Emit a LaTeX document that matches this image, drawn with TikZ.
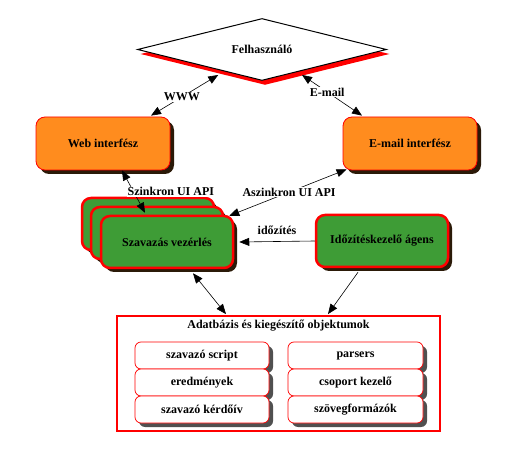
\documentclass[tikz,border=0pt]{standalone}
\usepackage{fontspec}
\setmainfont{Liberation Serif}
\usetikzlibrary{shapes.geometric,arrows.meta,calc,shadows}
\definecolor{orng}{HTML}{FF8C1E}
\definecolor{grn}{HTML}{3E9C36}
\definecolor{shbrown}{HTML}{2B1A08}
\definecolor{shgray}{HTML}{505050}
\begin{document}
\begin{tikzpicture}[x=1pt,y=-1pt,
  lbl/.style={font=\bfseries\fontsize{12}{14}\selectfont, inner sep=1pt},
  onl/.style={lbl, fill=white, inner sep=0.8pt},
  brownshadow/.style={drop shadow={shadow xshift=4pt, shadow yshift=-4pt, fill=shbrown, opacity=1}},
  orngbox/.style={rectangle, rounded corners=9pt, draw=red, line width=0.8pt, fill=orng,
    minimum width=134pt, minimum height=53pt, lbl, brownshadow},
  grnbox/.style={rectangle, rounded corners=9pt, draw=red, line width=2.5pt, fill=grn,
    minimum width=132pt, minimum height=52pt, lbl, brownshadow},
  dbitem/.style={rectangle, rounded corners=6pt, draw=red, line width=0.7pt, fill=white,
    minimum height=27pt, lbl,
    drop shadow={shadow xshift=4pt, shadow yshift=-4pt, fill=shgray, opacity=1}},
  arr/.style={draw, line width=0.6pt, -{Triangle[length=10pt,width=8pt]}},
  darr/.style={draw, line width=0.6pt, {Triangle[length=10pt,width=8pt]}-{Triangle[length=10pt,width=8pt]}}
]
\useasboundingbox (0,0) rectangle (517,454);

% user diamond
\node[diamond, draw=black, line width=1pt, fill=white, minimum width=249pt, minimum height=62pt,
  inner sep=0pt, aspect=4, lbl,
  drop shadow={shadow xshift=3pt, shadow yshift=-4.5pt, fill=red, opacity=1}] (user) at (262,49.5) {Felhasználó};

% interfaces
\node[orngbox] (web) at (103,143.5) {Web interfész};
\node[orngbox] (email) at (410,143.5) {E-mail interfész};

% stack of control boxes
\node[grnbox] (back) at (148,224) {};
\node[grnbox] (mid) at (157,233) {};
\node[grnbox] (front) at (167,242) {Szavazás vezérlés};

% timer
\node[grnbox] (timer) at (382,241) {Időzítéskezelő ágens};

% database
\node[rectangle, draw=red, line width=1.8pt, fill=white, minimum width=323pt, minimum height=115pt] (db) at (278.5,373.5) {};
\node[lbl] (dbtitle) at (278.5,326) {Adatbázis és kiegészítő objektumok};

\node[dbitem, minimum width=134pt] (i1) at (202,355.5) {szavazó script};
\node[dbitem, minimum width=134pt] (i2) at (202,382.5) {eredmények};
\node[dbitem, minimum width=134pt] (i3) at (202,409.5) {szavazó kérdőív};
\node[dbitem, minimum width=135pt] (j1) at (355.5,355.5) {parsers};
\node[dbitem, minimum width=135pt] (j2) at (355.5,382.5) {csoport kezelő};
\node[dbitem, minimum width=135pt] (j3) at (355.5,409.5) {szövegformázók};

% connectors
\draw[darr] ($(user.west)!0.65!(user.south)+(0,5)$) -- node[onl,pos=0.54]{WWW} ($(web.north)+(48,-1)$);
\draw[darr] ($(user.south)!0.32!(user.east)+(0,4)$) -- node[onl,pos=0.42]{E-mail} ($(email.north)+(-48,-1)$);
\draw[darr] ($(web.south)+(19,0)$) -- node[onl,pos=0.5,anchor=west,xshift=-7pt]{Szinkron UI API} ($(front.north)+(-22,-2)$);
\draw[darr] ($(email.south west)+(4,-1)$) -- node[onl,pos=0.49]{Aszinkron UI API} ($(front.north east)+(-5,1)$);
\draw[arr] (timer.west) -- node[lbl,above=6pt]{időzítés} ($(front.east)+(5,0)$);
\draw[darr] ($(front.south)+(26,4)$) -- ($(db.north)+(-52.5,-1)$);
\draw[arr] ($(timer.south)+(-24,4)$) -- ($(db.north)+(49.5,-1)$);
\end{tikzpicture}
\end{document}
